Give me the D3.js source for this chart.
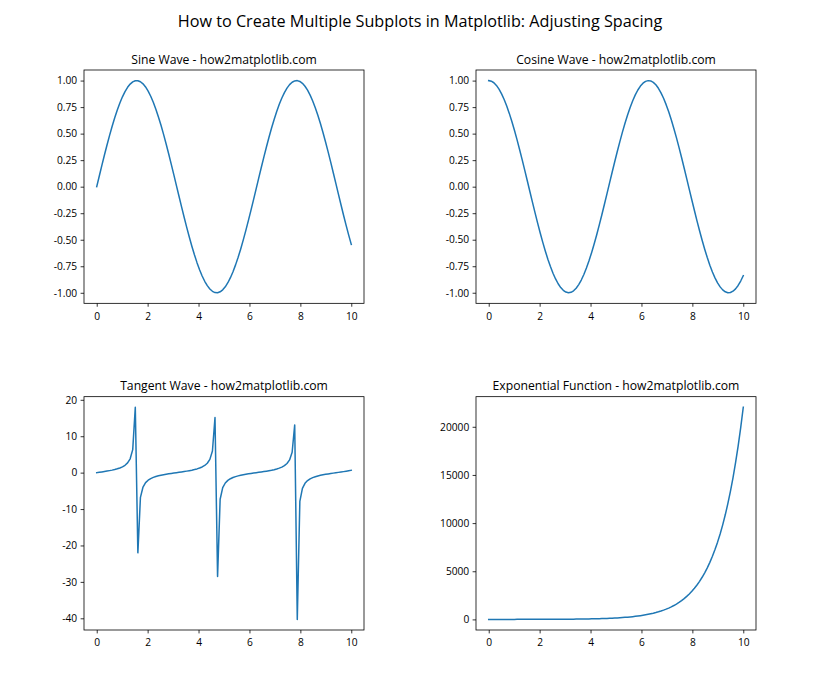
<!DOCTYPE html>
<html>
<head>
<meta charset="utf-8">
<script src="https://cdn.jsdelivr.net/npm/d3@7"></script>
<style>
  html, body { margin: 0; padding: 0; background: #fff; }
  svg { display: block; font-family: "Open Sans", "Noto Sans", sans-serif; }
</style>
</head>
<body>
<svg id="chart" width="840" height="700"></svg>
<script>
// ---------------- data ----------------
const xs = [0, 0.1010, 0.2020, 0.3030, 0.4040, 0.5051, 0.6061, 0.7071, 0.8081, 0.9091,
1.0101, 1.1111, 1.2121, 1.3131, 1.4141, 1.5152, 1.6162, 1.7172, 1.8182, 1.9192,
2.0202, 2.1212, 2.2222, 2.3232, 2.4242, 2.5253, 2.6263, 2.7273, 2.8283, 2.9293,
3.0303, 3.1313, 3.2323, 3.3333, 3.4343, 3.5354, 3.6364, 3.7374, 3.8384, 3.9394,
4.0404, 4.1414, 4.2424, 4.3434, 4.4444, 4.5455, 4.6465, 4.7475, 4.8485, 4.9495,
5.0505, 5.1515, 5.2525, 5.3535, 5.4545, 5.5556, 5.6566, 5.7576, 5.8586, 5.9596,
6.0606, 6.1616, 6.2626, 6.3636, 6.4646, 6.5657, 6.6667, 6.7677, 6.8687, 6.9697,
7.0707, 7.1717, 7.2727, 7.3737, 7.4747, 7.5758, 7.6768, 7.7778, 7.8788, 7.9798,
8.0808, 8.1818, 8.2828, 8.3838, 8.4848, 8.5859, 8.6869, 8.7879, 8.8889, 8.9899,
9.0909, 9.1919, 9.2929, 9.3939, 9.4949, 9.5960, 9.6970, 9.7980, 9.8990, 10];

const sineValues = [0, 0.1008, 0.2007, 0.2984, 0.3931, 0.4839, 0.5696, 0.6496, 0.7230, 0.7890,
0.8469, 0.8962, 0.9364, 0.9670, 0.9878, 0.9985, 0.9990, 0.9893, 0.9696, 0.9399,
0.9007, 0.8523, 0.7952, 0.7300, 0.6574, 0.5781, 0.4928, 0.4026, 0.3082, 0.2107,
0.1111, 0.0103, -0.0906, -0.1906, -0.2886, -0.3837, -0.4748, -0.5612, -0.6418, -0.7158,
-0.7826, -0.8414, -0.8916, -0.9327, -0.9643, -0.9861, -0.9978, -0.9994, -0.9908, -0.9720,
-0.9434, -0.9051, -0.8576, -0.8014, -0.7370, -0.6651, -0.5864, -0.5017, -0.4120, -0.3180,
-0.2207, -0.1213, -0.0206, 0.0804, 0.1805, 0.2787, 0.3742, 0.4658, 0.5526, 0.6339,
0.7086, 0.7762, 0.8358, 0.8869, 0.9290, 0.9616, 0.9843, 0.9971, 0.9997, 0.9921,
0.9744, 0.9467, 0.9094, 0.8629, 0.8075, 0.7439, 0.6727, 0.5947, 0.5106, 0.4213,
0.3277, 0.2308, 0.1315, 0.0308, -0.0701, -0.1704, -0.2688, -0.3646, -0.4566, -0.5440];

const cosineValues = [1, 0.9949, 0.9797, 0.9544, 0.9195, 0.8752, 0.8219, 0.7603, 0.6909, 0.6145,
0.5318, 0.4437, 0.3510, 0.2548, 0.1560, 0.0556, -0.0453, -0.1459, -0.2449, -0.3414,
-0.4344, -0.5230, -0.6063, -0.6834, -0.7536, -0.8160, -0.8701, -0.9154, -0.9513, -0.9776,
-0.9938, -0.9999, -0.9959, -0.9817, -0.9575, -0.9235, -0.8801, -0.8277, -0.7669, -0.6983,
-0.6225, -0.5405, -0.4529, -0.3606, -0.2648, -0.1662, -0.0659, 0.0351, 0.1357, 0.2349,
0.3317, 0.4252, 0.5143, 0.5981, 0.6759, 0.7468, 0.8100, 0.8650, 0.9112, 0.9481,
0.9753, 0.9926, 0.9998, 0.9968, 0.9836, 0.9604, 0.9274, 0.8849, 0.8334, 0.7735,
0.7056, 0.6306, 0.5491, 0.4620, 0.3702, 0.2747, 0.1763, 0.0761, -0.0248, -0.1255,
-0.2249, -0.3220, -0.4158, -0.5054, -0.5899, -0.6683, -0.7399, -0.8039, -0.8598, -0.9069,
-0.9448, -0.9730, -0.9913, -0.9995, -0.9975, -0.9854, -0.9632, -0.9312, -0.8897, -0.8391];

const tangentValues = [0, 0.1014, 0.2048, 0.3127, 0.4276, 0.5529, 0.6931, 0.8545, 1.0464, 1.2840,
1.5926, 2.0200, 2.6674, 3.7948, 6.3309, 17.95, -22.03, -6.7831, -3.9595, -2.7532,
-2.0733, -1.6295, -1.3116, -1.0682, -0.8724, -0.7084, -0.5664, -0.4398, -0.3240, -0.2156,
-0.1118, -0.0103, 0.0910, 0.1941, 0.3014, 0.4155, 0.5395, 0.6780, 0.8368, 1.0251,
1.2571, 1.5568, 1.9688, 2.5862, 3.6424, 5.9346, 15.147, -28.494, -7.3026, -4.1382,
-2.8439, -2.1290, -1.6677, -1.3399, -1.0904, -0.8906, -0.7240, -0.5800, -0.4521, -0.3354,
-0.2263, -0.1222, -0.0206, 0.0806, 0.1835, 0.2902, 0.4035, 0.5263, 0.6631, 0.8195,
1.0043, 1.2309, 1.5222, 1.9197, 2.5092, 3.5010, 5.5836, 13.098, -40.301, -7.9058,
-4.3327, -2.9402, -2.1871, -1.7073, -1.3690, -1.1132, -0.9093, -0.7397, -0.5939, -0.4645,
-0.3469, -0.2372, -0.1326, -0.0308, 0.0703, 0.1729, 0.2791, 0.3916, 0.5133, 0.6484];

const expValues = [1, 1.106, 1.224, 1.354, 1.498, 1.657, 1.833, 2.028, 2.244, 2.482,
2.746, 3.038, 3.361, 3.718, 4.113, 4.550, 5.034, 5.569, 6.161, 6.815,
7.540, 8.341, 9.228, 10.21, 11.29, 12.49, 13.82, 15.29, 16.92, 18.71,
20.70, 22.90, 25.34, 28.03, 31.01, 34.31, 37.95, 41.99, 46.45, 51.39,
56.85, 62.89, 69.58, 76.97, 85.15, 94.20, 104.2, 115.3, 127.5, 141.1,
156.1, 172.7, 191.0, 211.4, 233.8, 258.7, 286.2, 316.6, 350.2, 387.5,
428.6, 474.2, 524.6, 580.4, 642.0, 710.3, 785.8, 869.3, 961.7, 1063.9,
1177.0, 1302.1, 1440.5, 1593.6, 1763.0, 1950.3, 2157.6, 2387.0, 2640.7, 2921.3,
3231.8, 3575.4, 3955.3, 4375.8, 4840.9, 5355.4, 5924.6, 6554.3, 7251.0, 8021.7,
8874.3, 9817.5, 10860.9, 12015.2, 13292.5, 14705.3, 16268.2, 17997.4, 19910.3, 22026.5];

const xTickValues = [0, 2, 4, 6, 8, 10];
const trigTickValues = [-1.00, -0.75, -0.50, -0.25, 0.00, 0.25, 0.50, 0.75, 1.00];
const tanTickValues = [-40, -30, -20, -10, 0, 10, 20];
const expTickValues = [0, 5000, 10000, 15000, 20000];

const figureTitle = "How to Create Multiple Subplots in Matplotlib: Adjusting Spacing";
const panelTitles = ["Sine Wave - how2matplotlib.com", "Cosine Wave - how2matplotlib.com",
                     "Tangent Wave - how2matplotlib.com", "Exponential Function - how2matplotlib.com"];

// ---------------- layout ----------------
const W = 840, H = 700;
const padL = 0.1 * W, padR = 0.9 * W, padT = 0.1 * H, padB = 0.9 * H;
const space = 0.4;
const aw = (padR - padL) / (2 + space);
const ah = (padB - padT) / (2 + space);
const color = "#1f77b4";
const tickFont = 10.2, titleFont = 12.2, supFont = 16.2;

const svg = d3.select("#chart");
svg.append("rect").attr("width", W).attr("height", H).attr("fill", "#fff");

svg.append("text")
  .attr("x", W / 2).attr("y", 27)
  .attr("text-anchor", "middle")
  .attr("font-size", supFont)
  .attr("fill", "#000")
  .text(figureTitle);

const fmtMinus = s => s.replace("\u2212", "-");
const panels = [
  { title: panelTitles[0], ys: sineValues, ticks: trigTickValues, fmt: d => fmtMinus(d3.format(".2f")(d)), r: 0, c: 0 },
  { title: panelTitles[1], ys: cosineValues, ticks: trigTickValues, fmt: d => fmtMinus(d3.format(".2f")(d)), r: 0, c: 1 },
  { title: panelTitles[2], ys: tangentValues, ticks: tanTickValues, fmt: d => fmtMinus(d3.format("d")(d)), r: 1, c: 0 },
  { title: panelTitles[3], ys: expValues, ticks: expTickValues, fmt: d => fmtMinus(d3.format("d")(d)), r: 1, c: 1 }
];

panels.forEach(p => {
  const x0 = padL + p.c * aw * (1 + space);
  const y0 = padT + p.r * ah * (1 + space);
  const g = svg.append("g").attr("transform", `translate(${x0},${y0})`);

  const xExt = d3.extent(xs);
  const xPad = (xExt[1] - xExt[0]) * 0.05;
  const x = d3.scaleLinear().domain([xExt[0] - xPad, xExt[1] + xPad]).range([0, aw]);
  const yExt = d3.extent(p.ys);
  const yPad = (yExt[1] - yExt[0]) * 0.05;
  const y = d3.scaleLinear().domain([yExt[0] - yPad, yExt[1] + yPad]).range([ah, 0]);

  const line = d3.line().x((d, i) => x(xs[i])).y(d => y(d));
  g.append("path")
    .datum(p.ys)
    .attr("d", line)
    .attr("fill", "none")
    .attr("stroke", color)
    .attr("stroke-width", 1.5)
    .attr("stroke-linejoin", "round")
    .attr("stroke-linecap", "square");

  const xAxis = d3.axisBottom(x).tickValues(xTickValues).tickSize(3.4).tickPadding(3.4).tickFormat(d3.format("d"));
  const yAxis = d3.axisLeft(y).tickValues(p.ticks).tickSize(3.4).tickPadding(3.4).tickFormat(p.fmt);

  const gx = g.append("g").attr("transform", `translate(0,${ah})`).call(xAxis);
  const gy = g.append("g").call(yAxis);
  [gx, gy].forEach(a => {
    a.select(".domain").remove();
    a.selectAll(".tick line").attr("stroke", "#000").attr("stroke-width", 0.8);
    a.selectAll(".tick text").attr("fill", "#000").attr("font-size", tickFont)
      .attr("font-family", "\"Open Sans\", \"Noto Sans\", sans-serif");
  });
  gx.selectAll(".tick text").attr("dy", null).attr("y", 16.3);

  g.append("rect")
    .attr("x", 0).attr("y", 0).attr("width", aw).attr("height", ah)
    .attr("fill", "none").attr("stroke", "#000").attr("stroke-width", 0.8);

  g.append("text")
    .attr("x", aw / 2).attr("y", -6.3)
    .attr("text-anchor", "middle")
    .attr("font-size", titleFont)
    .attr("fill", "#000")
    .text(p.title);
});
</script>
</body>
</html>
